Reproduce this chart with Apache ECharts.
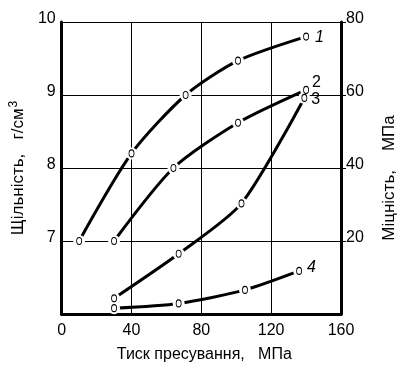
<!DOCTYPE html>
<html>
<head>
<meta charset="utf-8">
<script src="https://cdn.jsdelivr.net/npm/echarts@6/dist/echarts.min.js"></script>
<style>html,body{margin:0;padding:0;background:#fff;}#c{width:406px;height:370px;}</style>
</head>
<body>
<div id="c"></div>
<script>
// Curves 1,2: density (g/cm3, left axis); curves 3,4: strength (MPa, right axis)
const pressure1 = [10, 40, 71, 101, 140];
const density1 = [7.0, 8.2, 9.0, 9.47, 9.8];
const pressure2 = [30, 64, 101, 140];
const density2 = [7.0, 8.0, 8.62, 9.07];
const pressure3 = [30, 67, 103, 139];
const strength3 = [4.3, 16.5, 30.3, 59.2];
const pressure4 = [30, 67, 105, 136];
const strength4 = [1.6, 2.9, 6.6, 11.8];
const curveNames = ['1', '2', '3', '4'];
const xTicks = [0, 40, 80, 120, 160];

const FONT = '"Liberation Sans", Arial, sans-serif';

function pairs(xs, ys) { return xs.map((x, i) => [x, ys[i]]); }

function withEndLabel(xs, ys, name, offset, italic) {
  const d = pairs(xs, ys);
  const last = d.length - 1;
  d[last] = {
    value: d[last],
    label: {
      show: true, formatter: name, position: 'right', offset: offset,
      color: '#000', fontSize: 16, fontFamily: FONT,
      fontStyle: italic ? 'italic' : 'normal'
    }
  };
  return d;
}

function lineSeries(xs, ys, yIdx) {
  return {
    type: 'line', yAxisIndex: yIdx, data: pairs(xs, ys), smooth: 0.25,
    showSymbol: false, symbol: 'none',
    lineStyle: { color: '#000', width: 3 },
    z: 2, silent: true, animation: false
  };
}

function gapSeries(xs, ys, yIdx) {
  return {
    type: 'scatter', yAxisIndex: yIdx, data: pairs(xs, ys),
    symbol: 'circle', symbolSize: 12,
    itemStyle: { color: '#fff', borderWidth: 0, opacity: 1 },
    z: 3, silent: true, animation: false
  };
}

function markSeries(data, yIdx) {
  return {
    type: 'scatter', yAxisIndex: yIdx, data: data,
    symbol: 'circle', symbolSize: [5, 7],
    itemStyle: { color: '#fff', borderColor: '#000', borderWidth: 1, opacity: 1 },
    z: 4, silent: true, animation: false
  };
}

const chart = echarts.init(document.getElementById('c'), null, { renderer: 'canvas' });
chart.setOption({
  backgroundColor: '#fff',
  animation: false,
  grid: { left: 59, right: 63, top: 22, bottom: 56 },
  xAxis: {
    type: 'value', min: 0, max: 160, interval: 40,
    name: 'Тиск пресування,   МПа', nameLocation: 'middle', nameGap: 33,
    nameTextStyle: { color: '#000', fontSize: 16, fontFamily: FONT, padding: [0, 0, 0, 6] },
    axisLine: { show: true, onZero: false, lineStyle: { color: '#000', width: 3 } },
    axisTick: { show: false },
    axisLabel: { color: '#000', fontSize: 16, fontFamily: FONT, margin: 9,
      formatter: v => xTicks.includes(v) ? String(v) : '' },
    splitLine: { show: true, lineStyle: { color: '#000', width: 1 } }
  },
  yAxis: [
    {
      type: 'value', min: 6, max: 10, interval: 1, position: 'left',
      name: '{a|Щільність,   г/см}{s|3}', nameLocation: 'middle', nameRotate: 90, nameGap: 27,
      nameTextStyle: { color: '#000', fontSize: 17, fontFamily: FONT, padding: [0, 0, 0, 0],
        rich: { a: { fontSize: 17, fontFamily: FONT, color: '#000' },
                s: { fontSize: 12, fontFamily: FONT, color: '#000', verticalAlign: 'bottom', padding: [0, 0, 9, 1] } } },
      axisLine: { show: true, lineStyle: { color: '#000', width: 3 } },
      axisTick: { show: false },
      axisLabel: { color: '#000', fontSize: 16, fontFamily: FONT, margin: 6, showMinLabel: false,
        verticalAlign: 'bottom', lineHeight: 6 },
      splitLine: { show: true, lineStyle: { color: '#000', width: 1 } }
    },
    {
      type: 'value', min: 0, max: 80, interval: 20, position: 'right',
      name: 'Міцність,    МПа', nameLocation: 'middle', nameRotate: 90, nameGap: 40,
      nameTextStyle: { color: '#000', fontSize: 17, fontFamily: FONT, padding: [0, 20, 0, 0] },
      axisLine: { show: true, lineStyle: { color: '#000', width: 3 } },
      axisTick: { show: true, length: 5, lineStyle: { color: '#000', width: 1 } },
      axisLabel: { color: '#000', fontSize: 16, fontFamily: FONT, margin: 5, showMinLabel: false,
        verticalAlign: 'bottom', lineHeight: 6 },
      splitLine: { show: false }
    }
  ],
  series: [
    lineSeries(pressure1, density1, 0),
    lineSeries(pressure2, density2, 0),
    lineSeries(pressure3, strength3, 1),
    lineSeries(pressure4, strength4, 1),
    gapSeries(pressure1, density1, 0),
    gapSeries(pressure2, density2, 0),
    gapSeries(pressure3, strength3, 1),
    gapSeries(pressure4, strength4, 1),
    markSeries(withEndLabel(pressure1, density1, curveNames[0], [1, 1], true), 0),
    markSeries(withEndLabel(pressure2, density2, curveNames[1], [-2, -7], false), 0),
    markSeries(withEndLabel(pressure3, strength3, curveNames[2], [-1, 2], false), 1),
    markSeries(withEndLabel(pressure4, strength4, curveNames[3], [0, -3], true), 1)
  ]
});
</script>
</body>
</html>
